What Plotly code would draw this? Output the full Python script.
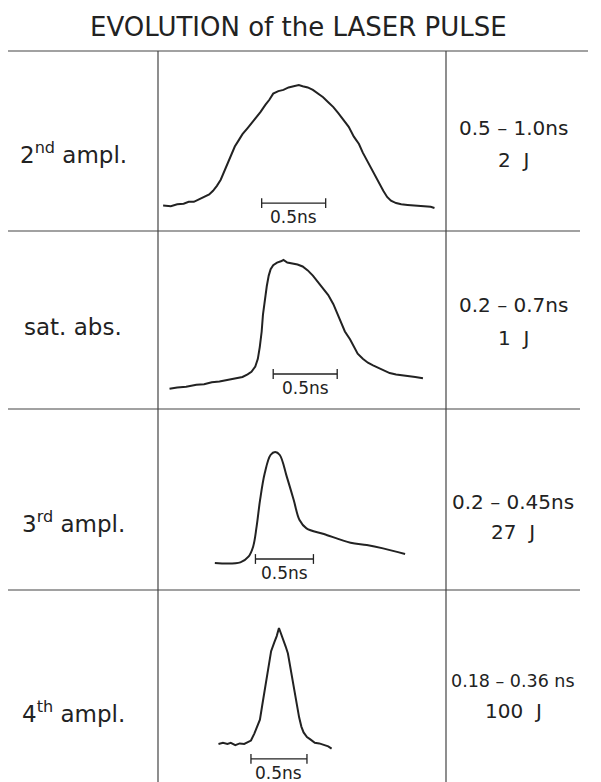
import plotly.graph_objects as go

# ---------------- data ----------------
title_text = "EVOLUTION of the LASER PULSE"
stage_labels = ["2<sup>nd</sup> ampl.", "sat. abs.", "3<sup>rd</sup> ampl.", "4<sup>th</sup> ampl."]
duration_labels = ["0.5 – 1.0ns", "0.2 – 0.7ns", "0.2 – 0.45ns", "0.18 – 0.36 ns"]
energy_labels = ["2  J", "1  J", "27  J", "100  J"]
scale_bar_label = "0.5ns"
scale_bar_length_ns = 0.5

# pulse 1: 2nd amplifier (time in ns, normalized intensity)
t_2nd = [0.04, 0.10, 0.15, 0.20, 0.24, 0.28, 0.32, 0.36, 0.40, 0.43, 0.46, 0.49, 0.51, 0.53,
         0.55, 0.57, 0.60, 0.63, 0.66, 0.70, 0.74, 0.77, 0.80, 0.84, 0.87, 0.90, 0.94, 0.98,
         1.02, 1.06, 1.10, 1.13, 1.17, 1.21, 1.25, 1.29, 1.33, 1.37, 1.41, 1.45, 1.49, 1.53,
         1.57, 1.60, 1.63, 1.67, 1.70, 1.73, 1.76, 1.79, 1.82, 1.86, 1.90, 1.95, 2.00, 2.05,
         2.10, 2.13, 2.16]
i_2nd = [0.02, 0.015, 0.03, 0.035, 0.05, 0.05, 0.07, 0.09, 0.11, 0.14, 0.18, 0.23, 0.28, 0.33,
         0.39, 0.43, 0.50, 0.55, 0.60, 0.65, 0.70, 0.74, 0.78, 0.84, 0.88, 0.93, 0.95, 0.96,
         0.98, 0.99, 1.00, 0.99, 0.98, 0.96, 0.93, 0.90, 0.86, 0.82, 0.77, 0.71, 0.66, 0.58,
         0.52, 0.45, 0.39, 0.31, 0.25, 0.19, 0.14, 0.09, 0.06, 0.04, 0.03, 0.025, 0.02, 0.015,
         0.015, 0.01, 0.0]
bar_start_2nd = 0.81

# pulse 2: after saturable absorber
t_sat = [0.09, 0.15, 0.22, 0.30, 0.36, 0.42, 0.48, 0.54, 0.60, 0.66, 0.70, 0.73, 0.76, 0.78,
         0.795, 0.81, 0.82, 0.835, 0.85, 0.865, 0.88, 0.90, 0.93, 0.96, 0.98, 1.01, 1.05, 1.09,
         1.13, 1.17, 1.21, 1.25, 1.29, 1.33, 1.37, 1.40, 1.43, 1.46, 1.50, 1.53, 1.56, 1.60,
         1.64, 1.68, 1.72, 1.76, 1.81, 1.86, 1.91, 1.96, 2.01, 2.07]
i_sat = [0.01, 0.02, 0.025, 0.04, 0.045, 0.06, 0.065, 0.075, 0.085, 0.10, 0.12, 0.14, 0.18, 0.24,
         0.33, 0.45, 0.58, 0.70, 0.80, 0.88, 0.93, 0.96, 0.98, 0.99, 1.00, 0.98, 0.975, 0.965,
         0.95, 0.92, 0.88, 0.83, 0.78, 0.73, 0.66, 0.59, 0.52, 0.45, 0.39, 0.33, 0.28, 0.24,
         0.21, 0.19, 0.17, 0.15, 0.13, 0.12, 0.115, 0.11, 0.10, 0.09]
bar_start_sat = 0.90

# pulse 3: 3rd amplifier
t_3rd = [0.49, 0.71, 0.78, 0.82, 0.85, 0.88, 0.92, 0.97, 1.01, 1.05, 1.11, 1.17, 1.22, 1.28,
         1.43, 1.66, 1.80, 1.94, 2.13]
i_3rd = [0.0, 0.006, 0.057, 0.147, 0.327, 0.568, 0.808, 0.973, 1.0, 0.973, 0.778, 0.568, 0.387,
         0.312, 0.261, 0.183, 0.162, 0.132, 0.081]
bar_start_3rd = 0.84

# pulse 4: 4th amplifier
t_4th = [0.54, 0.58, 0.62, 0.65, 0.69, 0.73, 0.77, 0.80, 0.83, 0.86, 0.89, 0.91, 0.93, 0.95,
         0.97, 0.99, 1.01, 1.04, 1.06, 1.08, 1.10, 1.12, 1.14, 1.16, 1.18, 1.20, 1.22, 1.24,
         1.26, 1.28, 1.30, 1.33, 1.36, 1.40, 1.44, 1.48, 1.52, 1.55]
i_4th = [0.00, 0.01, 0.0, 0.01, -0.01, 0.005, 0.0, 0.015, 0.03, 0.09, 0.16, 0.21, 0.33, 0.45,
         0.56, 0.70, 0.80, 0.88, 0.93, 1.00, 0.95, 0.89, 0.84, 0.78, 0.66, 0.55, 0.44, 0.34,
         0.23, 0.15, 0.10, 0.06, 0.04, 0.01, 0.005, -0.01, -0.02, -0.04]
bar_start_4th = 0.83

pulses = [
    (t_2nd, i_2nd, bar_start_2nd, "linear"),
    (t_sat, i_sat, bar_start_sat, "linear"),
    (t_3rd, i_3rd, bar_start_3rd, "spline"),
    (t_4th, i_4th, bar_start_4th, "linear"),
]

# ---------------- layout geometry (page pixels) ----------------
PAGE_W, PAGE_H = 601, 782
OFF = 8                      # default body margin of the html page
W, H = PAGE_W - OFF, PAGE_H - OFF
COL_L, COL_R = 158, 446
ROW_EDGES = [51, 231, 409, 590, 782]
# per panel: px per ns, baseline pixel, px per intensity unit, bar level (intensity)
PANEL_SCALE = [(128, 208, 123, 0.04), (128, 390, 130, 0.123), (116, 563, 111, 0.036), (112, 744, 116, -0.129)]
LEFT_TEXT_X = 73
RIGHT_TEXT_X = 513
LABEL_Y = [(153, 128, 160), (327, 305, 338), (522, 502, 532), (712, 681, 711)]
DURATION_SIZE = [20, 20, 20, 17.5]

INK = "#222222"
FONT = "DejaVu Sans"


def px(x):
    return (x - OFF) / W


def py(y):
    return 1 - (y - OFF) / H


fig = go.Figure()
layout_axes = {}
for k, ((t, inten, bar0, shape), (sx, y0, sy, bar_i)) in enumerate(zip(pulses, PANEL_SCALE)):
    n = "" if k == 0 else str(k + 1)
    ytop, ybot = ROW_EDGES[k], ROW_EDGES[k + 1]
    fig.add_trace(go.Scatter(x=t, y=inten, mode="lines", line=dict(color=INK, width=2, shape=shape),
                             xaxis="x" + n, yaxis="y" + n, showlegend=False, hoverinfo="skip"))
    bx = [bar0, bar0 + scale_bar_length_ns]
    fig.add_trace(go.Scatter(x=bx, y=[bar_i, bar_i], mode="lines+markers",
                             line=dict(color=INK, width=1.3),
                             marker=dict(symbol="line-ns-open", size=7, color=INK, line=dict(width=1.3, color=INK)),
                             xaxis="x" + n, yaxis="y" + n, showlegend=False, hoverinfo="skip"))
    fig.add_annotation(x=(bx[0] + bx[1]) / 2, y=bar_i, xref="x" + n, yref="y" + n,
                       text=scale_bar_label, showarrow=False, xanchor="center", yanchor="top", yshift=-2,
                       font=dict(family=FONT, size=17, color=INK))
    layout_axes["xaxis" + n] = dict(domain=[px(COL_L), px(COL_R)], range=[0, (COL_R - COL_L) / sx],
                                    visible=False, anchor="y" + n)
    layout_axes["yaxis" + n] = dict(domain=[py(ybot), py(ytop)],
                                    range=[(y0 - ybot) / sy, (y0 - ytop) / sy],
                                    visible=False, anchor="x" + n)
    yl, yd, ye = LABEL_Y[k]
    fig.add_annotation(x=px(LEFT_TEXT_X), y=py(yl), xref="paper", yref="paper", text=stage_labels[k],
                       showarrow=False, xanchor="center", yanchor="middle",
                       font=dict(family=FONT, size=23, color=INK))
    fig.add_annotation(x=px(RIGHT_TEXT_X), y=py(yd), xref="paper", yref="paper", text=duration_labels[k],
                       showarrow=False, xanchor="center", yanchor="middle",
                       font=dict(family=FONT, size=DURATION_SIZE[k], color=INK))
    fig.add_annotation(x=px(RIGHT_TEXT_X), y=py(ye), xref="paper", yref="paper", text=energy_labels[k],
                       showarrow=False, xanchor="center", yanchor="middle",
                       font=dict(family=FONT, size=20, color=INK))

# title
fig.add_annotation(x=px(298), y=py(27), xref="paper", yref="paper", text=title_text, showarrow=False,
                   xanchor="center", yanchor="middle", font=dict(family=FONT, size=26, color=INK))

# table rules
LINE = dict(color="#444444", width=1.2)
shapes = [dict(type="line", xref="paper", yref="paper", x0=px(7), x1=px(588), y0=py(51), y1=py(51), line=LINE)]
for y in ROW_EDGES[1:4]:
    shapes.append(dict(type="line", xref="paper", yref="paper", x0=px(8), x1=px(580), y0=py(y), y1=py(y), line=LINE))
for x in (COL_L, COL_R):
    shapes.append(dict(type="line", xref="paper", yref="paper", x0=px(x), x1=px(x), y0=py(51), y1=0, line=LINE))

fig.update_layout(width=W, height=H, margin=dict(l=0, r=0, t=0, b=0),
                  paper_bgcolor="white", plot_bgcolor="white", shapes=shapes, **layout_axes)

fig.write_html("out.html")
